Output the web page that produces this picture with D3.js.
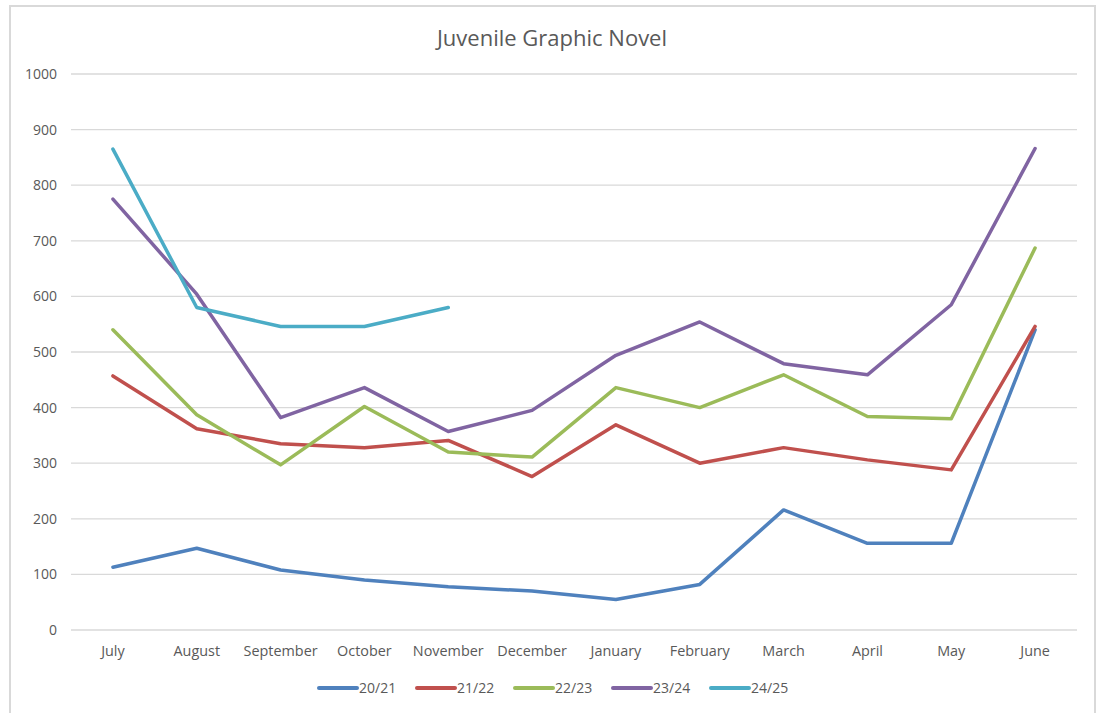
<!DOCTYPE html>
<html>
<head>
<meta charset="utf-8">
<script src="https://cdn.jsdelivr.net/npm/d3@7"></script>
<style>
  body { margin: 0; background: #fff; }
  text { font-family: "Open Sans", sans-serif; fill: #595959; }
</style>
</head>
<body>
<script>
var months = ['July','August','September','October','November','December','January','February','March','April','May','June'];
var seriesNames = ['20/21','21/22','22/23','23/24','24/25'];
var colors = ['#4F81BD','#C0504D','#9BBB59','#8064A2','#4BACC6'];

var s2021 = [113,147,108,90,78,70,55,82,216,156,156,540];
var s2122 = [457,362,335,328,341,276,369,300,328,306,288,546];
var s2223 = [540,387,297,402,320,311,436,400,459,384,380,687];
var s2324 = [775,604,382,436,357,395,494,554,479,459,585,866];
var s2425 = [865,580,546,546,580];

var yTicks = [0,100,200,300,400,500,600,700,800,900,1000];

const W = 1099, H = 713;
const margin = { left: 71, right: 22, top: 74, bottom: 83 };
const width = W - margin.left - margin.right;
const height = H - margin.top - margin.bottom;

const svg = d3.select("body").append("svg").attr("width", W).attr("height", H);

// chart frame
svg.append("rect")
    .attr("x", 10).attr("y", 6)
    .attr("width", 1085).attr("height", 720)
    .attr("fill", "#fff")
    .attr("stroke", "#d9d9d9")
    .attr("stroke-width", 2);

svg.append("text")
    .attr("x", 552).attr("y", 46)
    .attr("text-anchor", "middle")
    .style("font-size", "22px")
    .text("Juvenile Graphic Novel");

const x = d3.scaleBand().domain(months).range([0, width]);
const y = d3.scaleLinear().domain([0, 1000]).range([height, 0]);

const g = svg.append("g").attr("transform", `translate(${margin.left}, ${margin.top})`);

// gridlines
g.append("g")
    .selectAll("line")
    .data(yTicks)
    .join("line")
    .attr("x1", 0).attr("x2", width)
    .attr("y1", d => y(d)).attr("y2", d => y(d))
    .attr("stroke", "#d9d9d9")
    .attr("stroke-width", 1.3);

const yAxis = d3.axisLeft(y).tickValues(yTicks).tickFormat(d3.format("d")).tickSize(0).tickPadding(14);
g.append("g").call(yAxis)
    .call(a => a.select(".domain").remove())
    .selectAll("text").style("font-size", "14px");

const xAxis = d3.axisBottom(x).tickSize(0).tickPadding(16);
g.append("g").attr("transform", `translate(0, ${height})`).call(xAxis)
    .call(a => a.select(".domain").remove())
    .selectAll("text").style("font-size", "14.4px");

const allSeries = [s2021, s2122, s2223, s2324, s2425];

const line = d3.line()
    .x((d, i) => x(months[i]) + x.bandwidth() / 2)
    .y(d => y(d));

g.selectAll(".series")
    .data(allSeries)
    .join("path")
    .attr("class", "series")
    .attr("fill", "none")
    .attr("stroke", (d, i) => colors[i])
    .attr("stroke-width", 3.5)
    .attr("stroke-linejoin", "round")
    .attr("stroke-linecap", "round")
    .attr("d", d => line(d));

// legend
const legend = svg.append("g").attr("transform", "translate(319, 688)");
const item = legend.selectAll("g")
    .data(seriesNames)
    .join("g")
    .attr("transform", (d, i) => `translate(${i * 98}, 0)`);

item.append("line")
    .attr("x1", 0).attr("x2", 38)
    .attr("stroke", (d, i) => colors[i])
    .attr("stroke-width", 4)
    .attr("stroke-linecap", "round");

item.append("text")
    .attr("x", 40).attr("dy", "0.35em")
    .style("font-size", "14px")
    .text(d => d);
</script>
</body>
</html>
